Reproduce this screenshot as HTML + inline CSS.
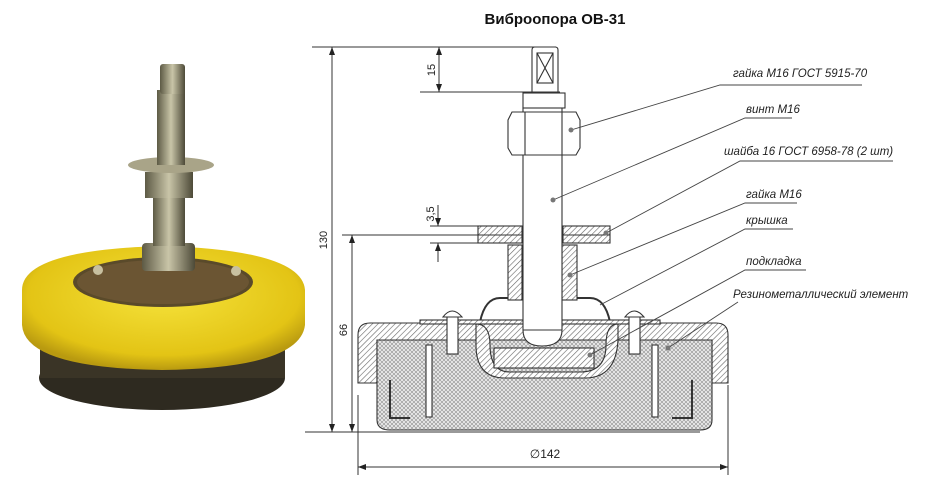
<!DOCTYPE html>
<html><head><meta charset="utf-8"><style>
html,body{margin:0;padding:0;background:#fff;}
svg{display:block;}
text{font-family:"Liberation Sans",sans-serif;}
.lb{font-size:11.5px;font-style:italic;fill:#222;}
</style></head><body>
<svg width="946" height="500" viewBox="0 0 946 500" xmlns="http://www.w3.org/2000/svg">
<defs>
<pattern id="h" width="4" height="4" patternUnits="userSpaceOnUse" patternTransform="rotate(45)">
<rect width="4" height="4" fill="#fff"/><line x1="0" y1="0" x2="0" y2="4" stroke="#666" stroke-width="1.2"/></pattern>
<pattern id="x" width="4" height="4" patternUnits="userSpaceOnUse">
<rect width="4" height="4" fill="#eee"/><path d="M0 0L4 4M4 0L0 4" stroke="#999" stroke-width="0.7"/></pattern>
<radialGradient id="yl" cx="0.5" cy="0.4" r="0.6"><stop offset="0" stop-color="#f5e23a"/><stop offset="0.8" stop-color="#e3c415"/><stop offset="1" stop-color="#b99a10"/></radialGradient>
<linearGradient id="st" x1="0" x2="1"><stop offset="0" stop-color="#5d5a45"/><stop offset="0.5" stop-color="#c9c5a8"/><stop offset="1" stop-color="#4d4a38"/></linearGradient>
<marker id="a" markerWidth="8" markerHeight="6" refX="8" refY="3" orient="auto"><path d="M0 0L8 3L0 6Z" fill="#222"/></marker>
<marker id="b" markerWidth="8" markerHeight="6" refX="0" refY="3" orient="auto"><path d="M8 0L0 3L8 6Z" fill="#222"/></marker>
</defs>

<!-- PHOTO -->
<ellipse cx="162" cy="378" rx="123" ry="32" fill="#2e2a20"/>
<rect x="40" y="345" width="245" height="33" fill="#3a3426"/>
<path d="M22 290 Q22 250 162 246 Q302 250 305 290 L305 325 Q300 368 162 370 Q25 368 22 325Z" fill="url(#yl)"/>
<ellipse cx="163" cy="282" rx="90" ry="25" fill="#5a4a2a"/>
<ellipse cx="163" cy="282" rx="86" ry="22" fill="#6b5533"/>
<circle cx="98" cy="270" r="5" fill="#c8c0a0"/><circle cx="236" cy="271" r="5" fill="#c8c0a0"/>
<rect x="142" y="243" width="53" height="28" rx="4" fill="url(#st)"/>
<rect x="153" y="196" width="32" height="50" fill="url(#st)"/>
<rect x="145" y="172" width="48" height="26" fill="url(#st)"/>
<ellipse cx="171" cy="165" rx="43" ry="8" fill="#a9a488"/>
<rect x="157" y="90" width="28" height="75" fill="url(#st)"/>
<rect x="160" y="64" width="25" height="30" rx="3" fill="url(#st)"/>

<!-- TITLE -->
<text x="555" y="24" font-size="15" font-weight="bold" text-anchor="middle" fill="#111">Виброопора ОВ-31</text>

<g stroke="#333" stroke-width="1" fill="none">
<line x1="312" y1="47" x2="556" y2="47"/>
<line x1="332" y1="47" x2="332" y2="432" marker-start="url(#b)" marker-end="url(#a)"/>
<line x1="420" y1="92" x2="560" y2="92"/>
<line x1="439" y1="47" x2="439" y2="92" marker-start="url(#b)" marker-end="url(#a)"/>
<line x1="430" y1="226" x2="478" y2="226"/>
<line x1="430" y1="243" x2="478" y2="243"/>
<line x1="438" y1="205" x2="438" y2="226" marker-end="url(#a)"/>
<line x1="438" y1="262" x2="438" y2="243" marker-end="url(#a)"/>
<line x1="342" y1="235" x2="478" y2="235"/>
<line x1="352" y1="235" x2="352" y2="432" marker-start="url(#b)" marker-end="url(#a)"/>
<line x1="305" y1="432" x2="700" y2="432"/>
<line x1="358" y1="395" x2="358" y2="475"/>
<line x1="728" y1="385" x2="728" y2="475"/>
<line x1="358" y1="467" x2="728" y2="467" marker-start="url(#b)" marker-end="url(#a)"/>
</g>
<text x="327" y="240" font-size="11" transform="rotate(-90 327 240)" text-anchor="middle" fill="#222">130</text>
<text x="435" y="70" font-size="11" transform="rotate(-90 435 70)" text-anchor="middle" fill="#222">15</text>
<text x="434" y="214" font-size="11" transform="rotate(-90 434 214)" text-anchor="middle" fill="#222">3,5</text>
<text x="347" y="330" font-size="11" transform="rotate(-90 347 330)" text-anchor="middle" fill="#222">66</text>
<text x="545" y="458" font-size="12" text-anchor="middle" fill="#222">∅142</text>

<g stroke="#333" stroke-width="1.1">
<path d="M358 335 Q358 323 370 323 L716 323 Q728 323 728 335 L728 383 L712 383 L712 340 L377 340 L377 383 L358 383Z" fill="url(#h)"/>
<path d="M377 340 L712 340 L712 420 Q712 430 700 430 L390 430 Q377 430 377 420Z" fill="url(#x)"/>
<rect x="426" y="345" width="6" height="72" fill="#fff"/>
<rect x="652" y="345" width="6" height="72" fill="#fff"/>
<path d="M390 380 L390 418 L410 418" fill="none" stroke-width="2"/>
<path d="M692 380 L692 418 L672 418" fill="none" stroke-width="2"/>
<path d="M476 324 Q490 324 490 345 Q490 372 510 372 L580 372 Q606 372 606 345 Q606 324 618 324 L618 340 Q616 378 585 378 L505 378 Q476 378 476 345Z" fill="url(#h)"/>
<rect x="494" y="348" width="100" height="20" fill="url(#h)"/>
<path d="M420 322 L480 322 Q485 298 500 298 L590 298 Q605 298 610 322 L660 322" fill="none" stroke-width="2"/>
<rect x="420" y="320" width="240" height="4" fill="url(#h)"/>
<rect x="447" y="316" width="11" height="38" fill="#fff"/>
<path d="M443 317 Q452 305 462 317Z" fill="#fff"/>
<rect x="629" y="316" width="11" height="38" fill="#fff"/>
<path d="M625 317 Q634 305 644 317Z" fill="#fff"/>
<rect x="508" y="245" width="14" height="55" fill="url(#h)"/>
<rect x="562" y="245" width="15" height="55" fill="url(#h)"/>
<rect x="478" y="226" width="44" height="17" fill="url(#h)"/>
<rect x="563" y="226" width="47" height="17" fill="url(#h)"/>
<line x1="478" y1="235" x2="522" y2="235"/><line x1="563" y1="235" x2="610" y2="235"/>
<path d="M523 108 L523 330 Q523 346 542 346 Q562 346 562 330 L562 108Z" fill="#fff"/>
<line x1="523" y1="330" x2="562" y2="330"/>
<path d="M512 112 L576 112 L580 120 L580 148 L576 155 L512 155 L508 148 L508 120Z" fill="#fff"/>
<line x1="525" y1="112" x2="525" y2="155"/><line x1="562" y1="112" x2="562" y2="155"/>
<rect x="523" y="93" width="42" height="15" fill="#fff"/>
<path d="M532 92 L532 50 Q532 47 535 47 L555 47 Q558 47 558 50 L558 92Z" fill="#fff"/>
<rect x="537" y="53" width="16" height="30" fill="none"/>
<path d="M537 53L553 83M553 53L537 83" fill="none"/>
</g>

<g stroke="#444" stroke-width="0.9" fill="none">
<path d="M862 85 L720 85 L571 130"/>
<path d="M792 118 L745 118 L553 200"/>
<path d="M893 161 L740 161 L606 233"/>
<path d="M797 203 L745 203 L570 275"/>
<path d="M793 229 L745 229 L600 305"/>
<path d="M806 270 L745 270 L590 355"/>
<path d="M738 302 L668 348"/>
</g>
<g fill="#777"><circle cx="571" cy="130" r="2.5"/><circle cx="553" cy="200" r="2.5"/><circle cx="606" cy="233" r="2.5"/><circle cx="570" cy="275" r="2.5"/><circle cx="590" cy="355" r="2.5"/><circle cx="668" cy="348" r="2.5"/></g>

<text class="lb" x="733" y="77">гайка М16 ГОСТ 5915-70</text>
<text class="lb" x="746" y="113">винт М16</text>
<text class="lb" x="724" y="155">шайба 16 ГОСТ 6958-78 (2 шт)</text>
<text class="lb" x="746" y="198">гайка М16</text>
<text class="lb" x="746" y="224">крышка</text>
<text class="lb" x="746" y="265">подкладка</text>
<text class="lb" x="733" y="298">Резинометаллический элемент</text>
</svg>
</body></html>
